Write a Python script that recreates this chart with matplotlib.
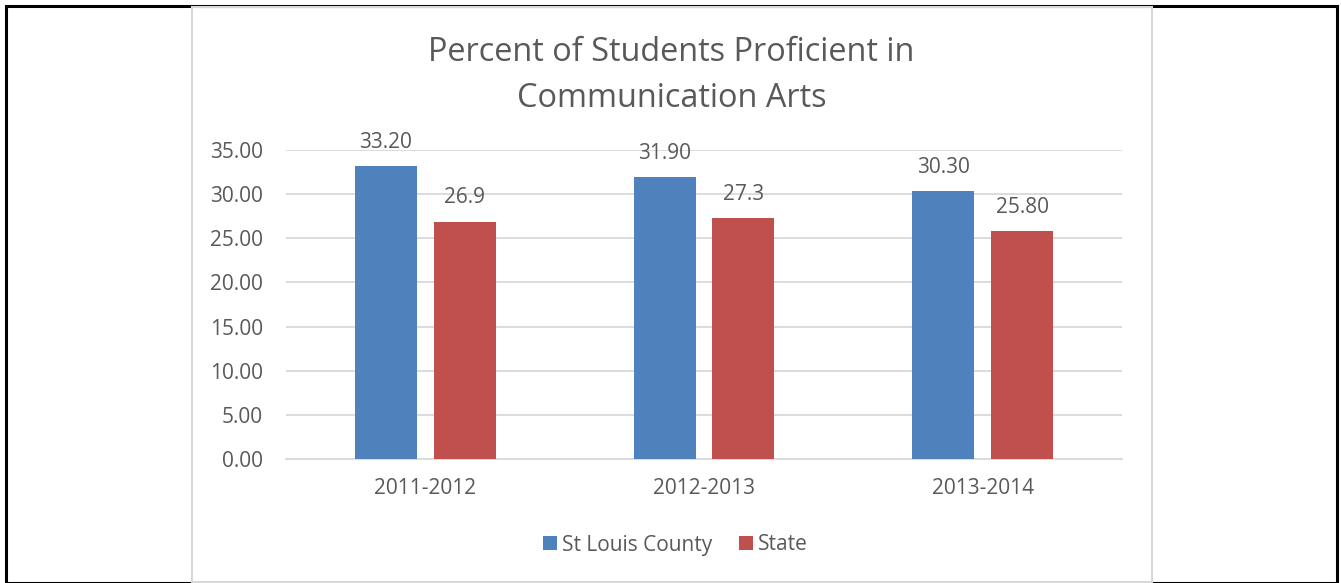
import matplotlib
matplotlib.use("Agg")
import matplotlib.pyplot as plt
from matplotlib.patches import Rectangle
import numpy as np

categories = ["2011-2012", "2012-2013", "2013-2014"]
county = [33.20, 31.90, 30.30]
state = [26.9, 27.3, 25.80]
county_labels = ["33.20", "31.90", "30.30"]
state_labels = ["26.9", "27.3", "25.80"]
series_names = ["St Louis County", "State"]
yticks = [0, 5, 10, 15, 20, 25, 30, 35]

plt.rcParams['font.family'] = ['Open Sans', 'DejaVu Sans']
TXT = "#595959"
BLUE = "#4F81BD"
RED = "#C0504D"
GRID = "#D9D9D9"
FS = 15

W, H = 1341, 583
fig = plt.figure(figsize=(W/100, H/100), dpi=100)

# outer black border and inner chart border
fig.patches.append(Rectangle((5.5/W, 0.5/H), (1336.5-5.5)/W, (577.5-0.5)/H, transform=fig.transFigure,
                             fill=False, edgecolor="black", linewidth=2.2, zorder=0))
fig.patches.append(Rectangle((191.5/W, 1/H), (1152-191.5)/W, (576-1)/H, transform=fig.transFigure,
                             fill=False, edgecolor="#D9D9D9", linewidth=1.5, zorder=1))

ax = fig.add_axes([286/W, (H-459)/H, (1122-286)/W, (459-150)/H])
x = np.arange(len(categories))
bw = 0.2225
off = 0.1417
b1 = ax.bar(x - off, county, bw, color=BLUE, label=series_names[0], zorder=3)
b2 = ax.bar(x + off, state, bw, color=RED, label=series_names[1], zorder=3)

for xi, v, lab in zip(x - off, county, county_labels):
    ax.annotate(lab, (xi, v), xytext=(0, 13), textcoords="offset points",
                ha="center", va="baseline", fontsize=FS, color=TXT)
for xi, v, lab in zip(x + off, state, state_labels):
    ax.annotate(lab, (xi, v), xytext=(0, 13), textcoords="offset points",
                ha="center", va="baseline", fontsize=FS, color=TXT)

ax.set_xlim(-0.5, 2.5)
ax.set_ylim(0, 35)
ax.set_yticks(yticks)
ax.set_yticklabels([f"{t:.2f}" for t in yticks])
ax.set_xticks(x)
ax.set_xticklabels(categories)
ax.tick_params(axis="both", length=0, labelsize=FS, labelcolor=TXT)
ax.tick_params(axis="y", pad=16.5)
ax.tick_params(axis="x", pad=14)
ax.yaxis.grid(True, color=GRID, linewidth=1.3, zorder=0)
ax.set_axisbelow(True)
for s in ["top", "right", "left"]:
    ax.spines[s].set_visible(False)
ax.spines["bottom"].set_color(GRID)
ax.spines["bottom"].set_linewidth(1.3)

fig.text(671.5/W, 1 - 61/H, "Percent of Students Proficient in", ha="center", va="baseline",
         fontsize=23.4, color=TXT)
fig.text(671.5/W, 1 - 107/H, "Communication Arts", ha="center", va="baseline",
         fontsize=23.4, color=TXT)

leg = fig.legend(handles=[b1, b2], loc="center", bbox_to_anchor=(675.5/W, 1 - 545/H),
                 ncol=2, frameon=False, fontsize=FS, handlelength=0.67, handleheight=0.67,
                 handletextpad=0.27, columnspacing=1.25)
for t in leg.get_texts():
    t.set_color(TXT)

fig.savefig("out.png", dpi=100)
